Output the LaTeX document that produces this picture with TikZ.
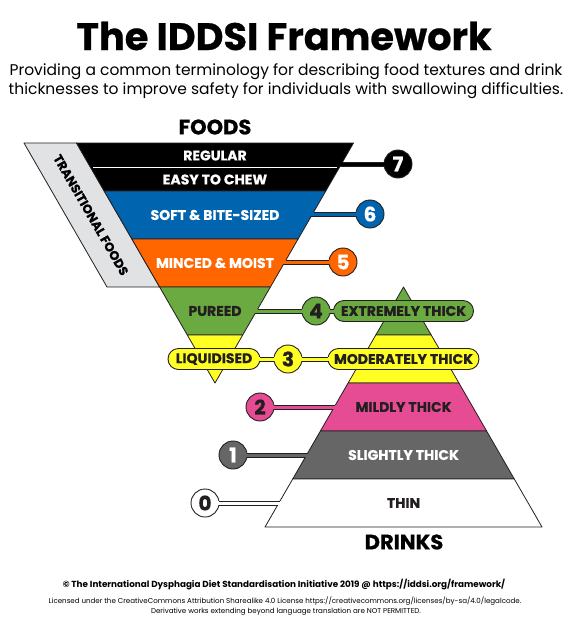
\documentclass[tikz,border=0pt]{standalone}
\usepackage{fontspec}
\setmainfont{Poppins}
\newfontfamily\heavy{Poppins}[BoldFeatures={FakeBold=0.6}]
\definecolor{outl}{HTML}{231F20}
\definecolor{cblack}{HTML}{000000}
\definecolor{cblue}{HTML}{0065AE}
\definecolor{corange}{HTML}{FF6600}
\definecolor{cgreen}{HTML}{6AAA40}
\definecolor{cyellow}{HTML}{FFFF24}
\definecolor{cpink}{HTML}{E54C93}
\definecolor{cgray}{HTML}{666666}
\definecolor{ctrans}{HTML}{E1E2E4}
\newcommand\pipe[8]{%
  \fill[#1] (#2,#4-2) rectangle (#3,#4+2);
  \draw[pipeline] (#5,#4-2) -- (#6,#4-2) (#7,#4+2) -- (#8,#4+2);}
\tikzset{
  band/.style={draw=outl, line width=0.8pt, line join=round},
  pipeline/.style={draw=outl, line width=0.8pt},
  lbl/.style={font=\fontsize{14}{14}\selectfont\heavy\bfseries, inner sep=0pt},
  num/.style={circle, minimum size=28pt, inner sep=0pt, draw=outl, line width=0.9pt,
    font=\fontsize{20}{20}\selectfont\heavy\bfseries},
  pill/.style={rectangle, rounded corners=10.5pt, minimum height=21pt, inner sep=0pt,
    draw=outl, line width=0.9pt, lbl},
}
\begin{document}
\begin{tikzpicture}[x=1pt,y=-1pt]
\useasboundingbox (0,0) rectangle (572,627);
\fill[white] (0,0) rectangle (572,627);
% titles
\node[font=\fontsize{38.3}{38.3}\selectfont\heavy\bfseries, inner sep=0pt] (title) at (284,36) {The IDDSI Framework};
\node[font=\fontsize{15.5}{18.5}\selectfont, align=center, inner sep=0pt] (sub) at (286,81)
  {Providing a common terminology for describing food textures and drink\\
   thicknesses to improve safety for individuals with swallowing difficulties.};
\node[font=\fontsize{21}{21}\selectfont\heavy\bfseries, inner sep=0pt] (foods) at (215,127) {FOODS};
\node[font=\fontsize{21}{21}\selectfont\heavy\bfseries, inner sep=0pt] (drinks) at (404,542) {DRINKS};
% transitional band
\draw[band, fill=ctrans] (24,143) -- (76.5,143) -- (159.6,287) -- (107,287) -- cycle;
\node[rotate=-60, font=\fontsize{12.5}{12.5}\selectfont\heavy\bfseries, inner sep=0pt] (trans) at (91,215) {TRANSITIONAL FOODS};
% foods funnel
\draw[band, fill=cblack] (76.5,143) -- (353.5,143) -- (325.8,191) -- (104.2,191) -- cycle;
\draw[band, fill=cblue] (104.2,191) -- (325.8,191) -- (298.1,239) -- (131.9,239) -- cycle;
\draw[band, fill=corange] (131.9,239) -- (298.1,239) -- (270.4,287) -- (159.6,287) -- cycle;
\draw[band, fill=cgreen] (159.6,287) -- (270.4,287) -- (242.7,335) -- (187.3,335) -- cycle;
\draw[band, fill=cyellow] (187.3,335) -- (242.7,335) -- (215,383) -- cycle;
\draw[white, line width=0.9pt] (93,167.5) -- (337,167.5);
% drinks pyramid
\draw[band, fill=cgreen] (403.5,287) -- (431.2,335) -- (375.8,335) -- cycle;
\draw[band, fill=cyellow] (375.8,335) -- (431.2,335) -- (458.9,383) -- (348.1,383) -- cycle;
\draw[band, fill=cpink] (348.1,383) -- (458.9,383) -- (486.6,431) -- (320.4,431) -- cycle;
\draw[band, fill=cgray] (320.4,431) -- (486.6,431) -- (514.3,479) -- (292.7,479) -- cycle;
\draw[band, fill=white] (292.7,479) -- (514.3,479) -- (542,527) -- (265,527) -- cycle;
% band labels
\node[lbl, text=white] (reg) at (215,155.5) {REGULAR};
\node[lbl, text=white] (etc) at (215,179.5) {EASY TO CHEW};
\node[lbl, text=white] (sbs) at (215,215) {SOFT \& BITE-SIZED};
\node[lbl, text=white] (mm) at (215,263) {MINCED \& MOIST};
\node[lbl, text=outl] (pur) at (215,311) {PUREED};
\node[lbl, text=outl] (mild) at (403.5,407) {MILDLY THICK};
\node[lbl, text=white] (slight) at (403.5,455) {SLIGHTLY THICK};
\node[lbl, text=outl] (thin) at (403.5,503) {THIN};
% pills
\node[pill, fill=cgreen, minimum width=140pt, text=outl] (ext) at (403.5,311) {EXTREMELY THICK};
\node[pill, fill=cyellow, minimum width=151pt, text=outl] (mod) at (403.5,359) {MODERATELY THICK};
\node[pill, fill=cyellow, minimum width=92pt, text=outl] (liq) at (214,359) {LIQUIDISED};
% number circles
\node[num, fill=cblack, text=white] (n7) at (398,164) {7};
\node[num, fill=cblue, text=white] (n6) at (370,214) {6};
\node[num, fill=corange, text=white] (n5) at (343,262) {5};
\node[num, fill=cgreen, text=outl] (n4) at (316,311) {4};
\node[num, fill=cyellow, text=outl] (n3) at (288,359) {3};
\node[num, fill=cpink, text=outl] (n2) at (260,407) {2};
\node[num, fill=cgray, text=white] (n1) at (233,455) {1};
\node[num, fill=white, text=outl] (n0) at (205,503) {0};
% pipes
\pipe{cblack}{336}{390}{164}{342.5}{384.2}{340.2}{384.2}
\pipe{cblue}{307}{362}{214}{313.7}{356.2}{311.4}{356.2}
\pipe{corange}{279}{335}{262}{286.0}{329.2}{283.7}{329.2}
\pipe{cgreen}{250}{308}{311}{257.7}{302.2}{255.4}{302.2}
\pipe{cgreen}{324}{339}{311}{329.8}{333.7}{329.8}{333.7}
\pipe{cyellow}{255}{280}{359}{259.8}{274.2}{259.8}{274.2}
\pipe{cyellow}{296}{334}{359}{301.8}{328.2}{301.8}{328.2}
\pipe{cpink}{266}{340}{407}{273.8}{335.4}{273.8}{333.1}
\pipe{cgray}{239}{312}{455}{246.8}{307.7}{246.8}{305.4}
\pipe{white}{212}{284}{503}{218.8}{280.0}{218.8}{277.7}
% footer
\node[font=\fontsize{8.8}{8.8}\selectfont\bfseries, inner sep=0pt] (f1) at (284,585)
  {© The International Dysphagia Diet Standardisation Initiative 2019 @ https://iddsi.org/framework/};
\node[font=\fontsize{7.1}{7.1}\selectfont, inner sep=0pt] (f2) at (285,601)
  {Licensed under the CreativeCommons Attribution Sharealike 4.0 License https://creativecommons.org/licenses/by-sa/4.0/legalcode.};
\node[font=\fontsize{7.1}{7.1}\selectfont, inner sep=0pt] (f3) at (286,612)
  {Derivative works extending beyond language translation are NOT PERMITTED.};
\end{tikzpicture}
\end{document}
